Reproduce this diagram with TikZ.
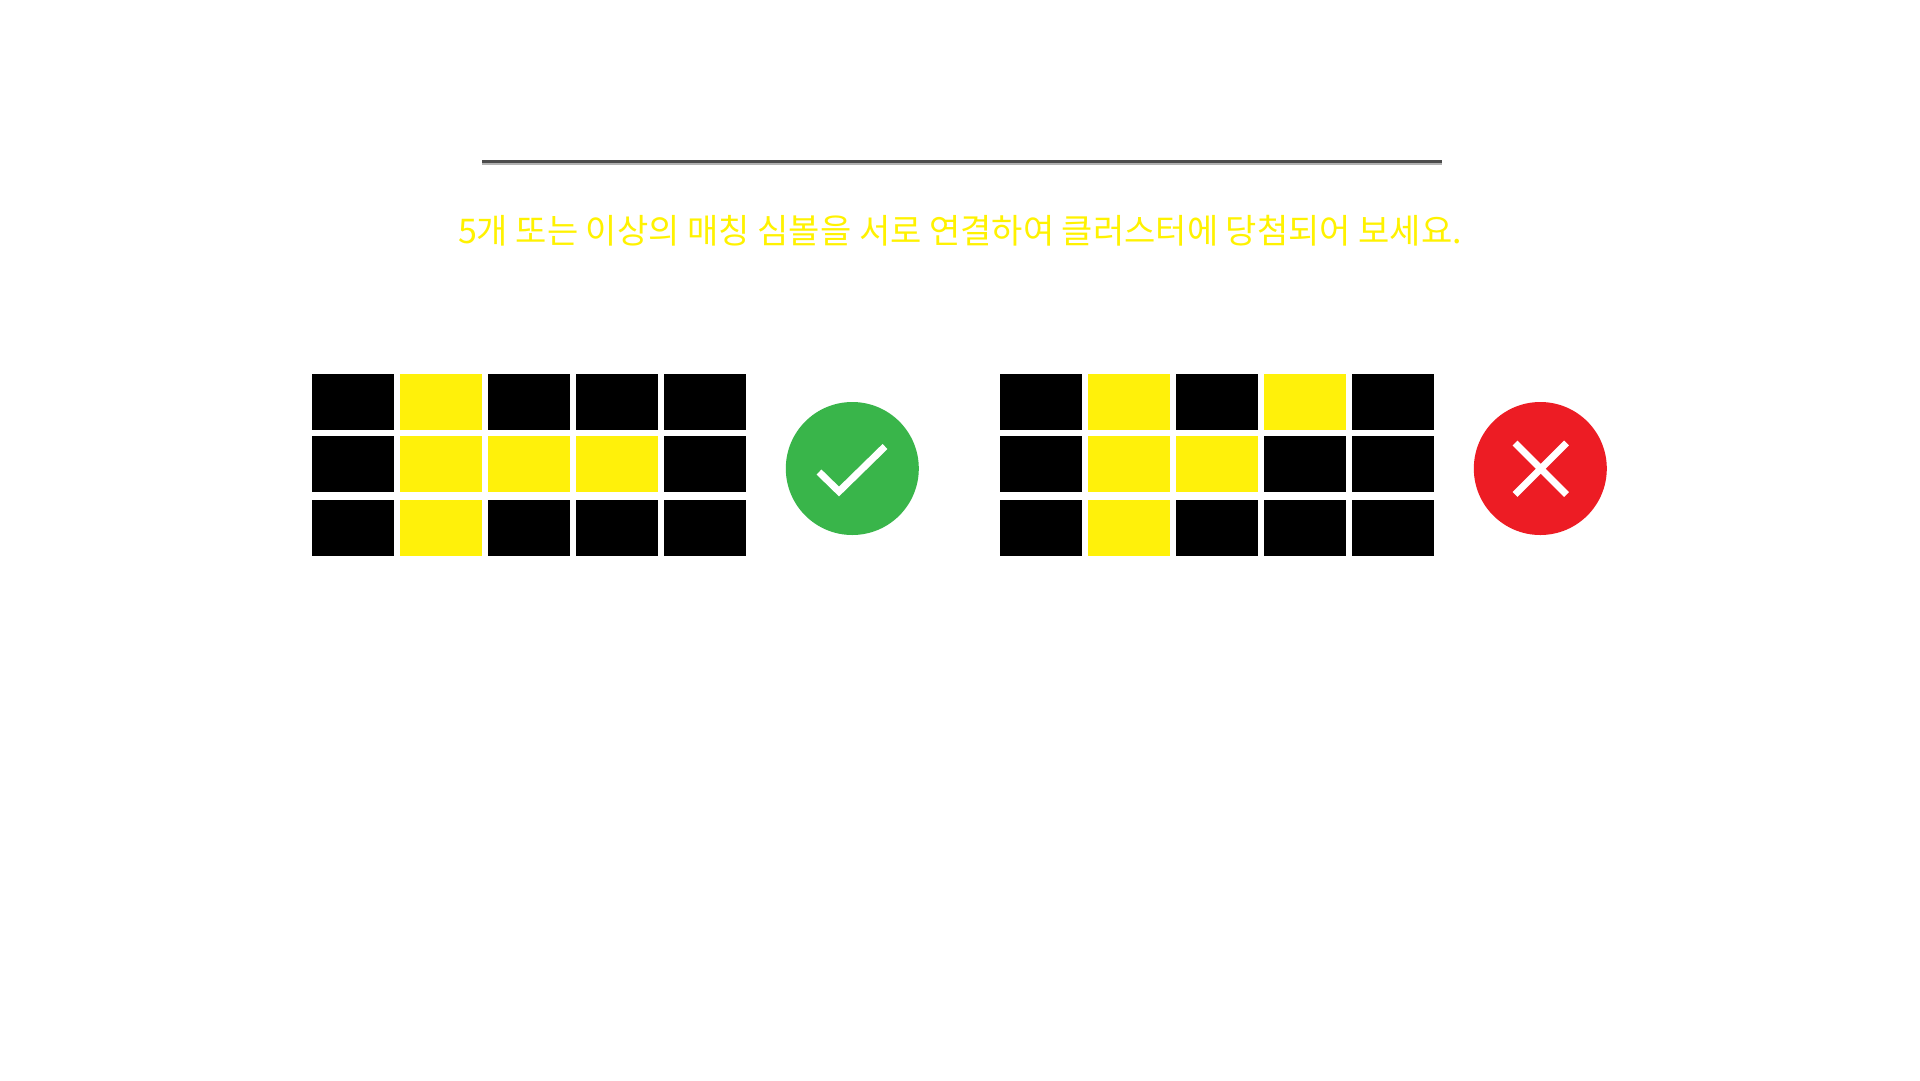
\documentclass[tikz,border=0pt]{standalone}
\usepackage{fontspec}
\newfontfamily\krfont{Noto Sans CJK KR}[BoldFont={Noto Sans CJK KR}]
\definecolor{gridyellow}{HTML}{FFF10A}
\definecolor{textyellow}{HTML}{FFF200}
\definecolor{okgreen}{HTML}{39B54A}
\definecolor{badred}{HTML}{ED1C24}
\tikzset{
  cellbox/.style={fill=#1,draw=none},
  markstroke/.style={draw=white,line width=7pt,line cap=butt,line join=miter}
}
% \cellrow{x offset}{y top}{y bottom}{five colours}
\newcommand{\cellrow}[4]{%
  \foreach \cx [count=\ci] in {312,400,488,576,664}{%
    \pgfmathsetmacro{\pick}{{#4}[\ci-1]}%
    \ifnum\pick=1 \def\cc{gridyellow}\else\def\cc{black}\fi
    \fill[cellbox=\cc] ({\cx+#1},#2) rectangle ({\cx+82+#1},#3);
  }%
}
\begin{document}
\begin{tikzpicture}[x=1pt,y=-1pt]
\useasboundingbox (0,0) rectangle (1920,1080);
\fill[white] (0,0) rectangle (1920,1080);
% rule
\fill[black!30] (482,162) rectangle (1442,164.5);
\fill[black!70] (482,160) rectangle (1442,162.5);
% text
\node[text=textyellow,inner sep=0pt,anchor=base,font=\krfont\fontsize{34}{38}\selectfont] (caption) at (960,243) {5개 또는 이상의 매칭 심볼을 서로 연결하여 클러스터에 당첨되어 보세요.};
% left grid
\cellrow{0}{374}{430}{0,1,0,0,0}
\cellrow{0}{436}{492}{0,1,1,1,0}
\cellrow{0}{500}{556}{0,1,0,0,0}
% right grid
\cellrow{688}{374}{430}{0,1,0,1,0}
\cellrow{688}{436}{492}{0,1,1,0,0}
\cellrow{688}{500}{556}{0,1,0,0,0}
% badges
\fill[okgreen] (852.3,468.5) circle (66.5);
\draw[markstroke] (819,472) -- (839,491.5) -- (885,446.5);
\fill[badred] (1540.3,468.5) circle (66.5);
\draw[markstroke] (1515,443) -- (1566.5,494.5);
\draw[markstroke] (1566.5,443) -- (1515,494.5);
\end{tikzpicture}
\end{document}
